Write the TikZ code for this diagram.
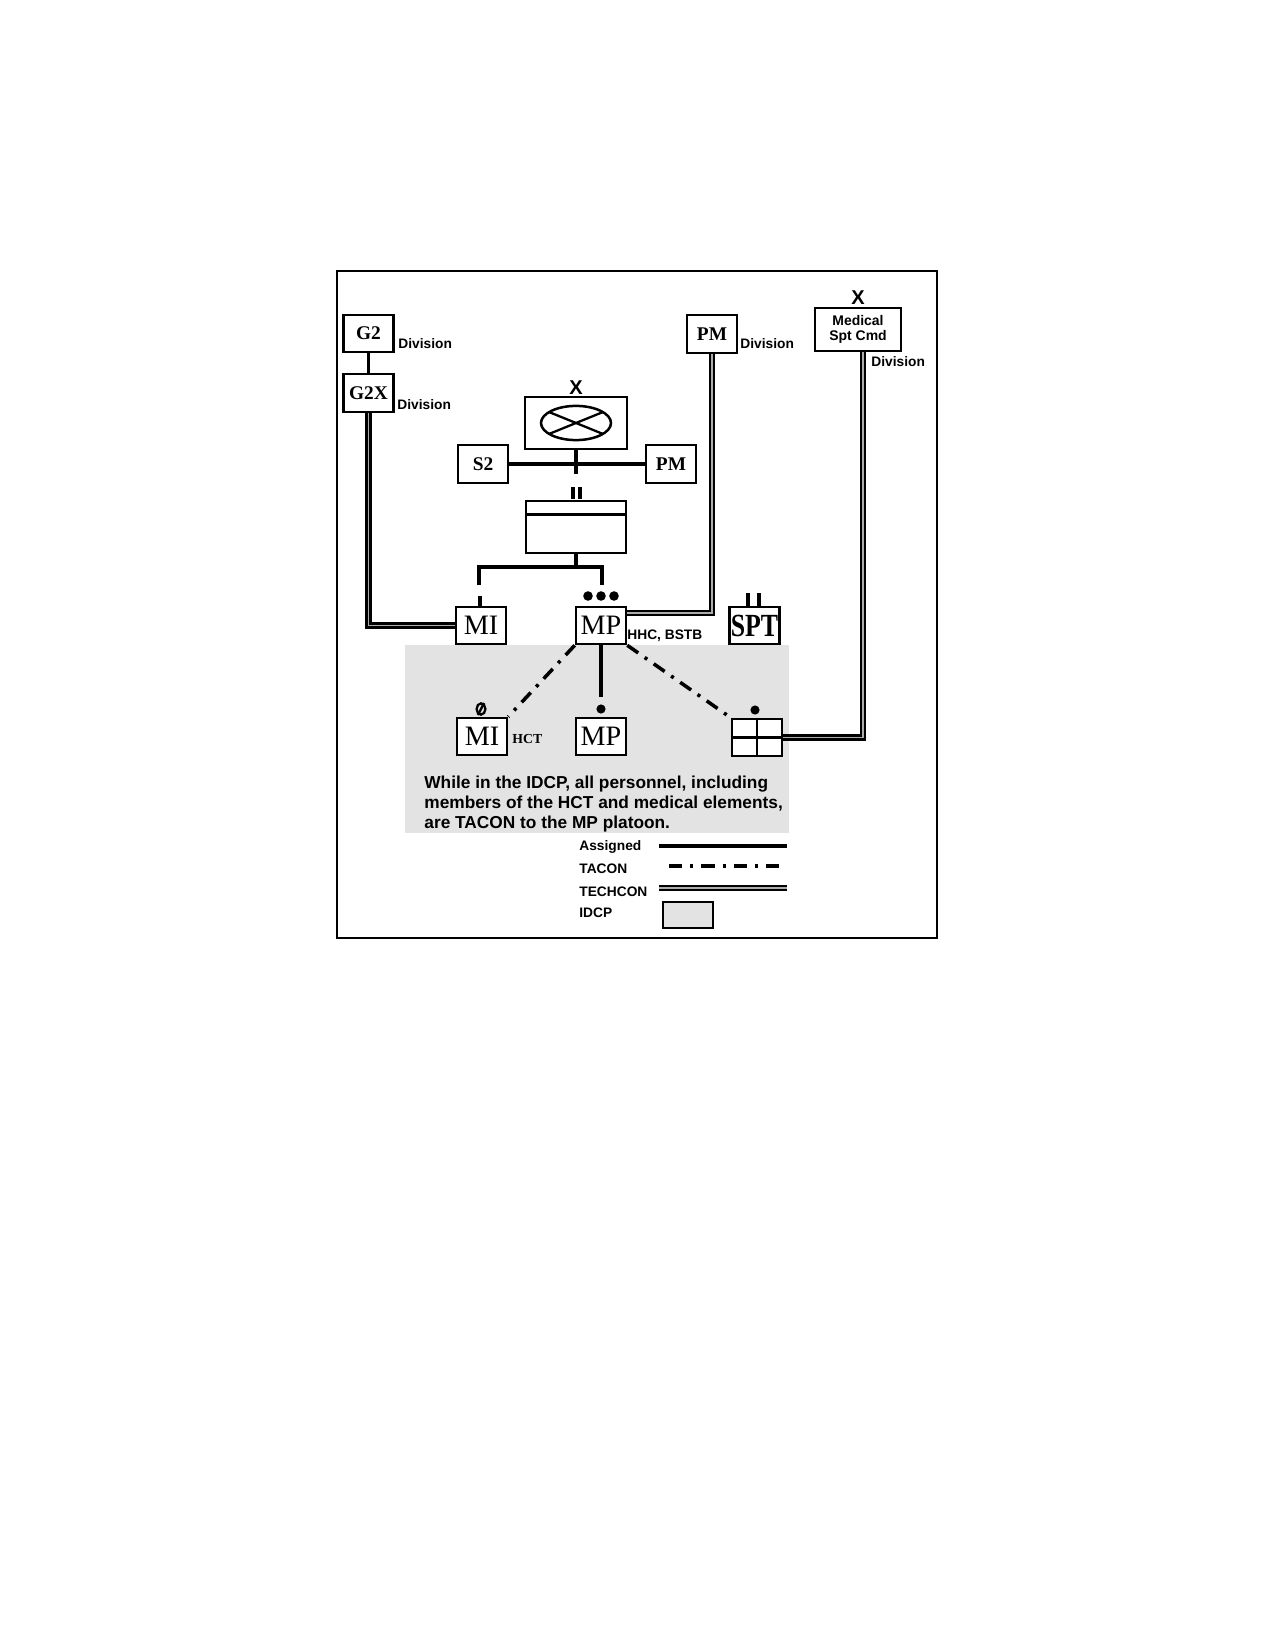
\documentclass[tikz,border=0pt]{standalone}
\usepackage{fontspec}
\setmainfont{Liberation Serif}
\setsansfont{Liberation Sans}
\begin{document}
\begin{tikzpicture}[x=0.48pt,y=-0.48pt,
  box/.style={draw,line width=1.2pt,inner sep=0pt,fill=white,minimum width=24pt,minimum height=18pt},
  lbl/.style={font=\sffamily\bfseries\fontsize{6.6}{7.5}\selectfont,inner sep=0pt},
  tlbl/.style={font=\rmfamily\bfseries\fontsize{9.3}{10}\selectfont},
  unitlbl/.style={font=\rmfamily\fontsize{13.5}{14}\selectfont},
  xlbl/.style={font=\sffamily\bfseries\fontsize{9.6}{10}\selectfont,inner sep=0pt},
  assigned/.style={line width=1.7pt},
  tacon/.style={line width=1.7pt,dash pattern=on 6.4pt off 3.8pt on 1.5pt off 3.8pt},
  techcon/.style={line width=1.1pt,double=gray!65,double distance=0.8pt},
  echelon/.style={line width=1.5pt},
  idcp/.style={fill=gray!22}]
\useasboundingbox (0,0) rectangle (1275,1650);

% IDCP area and frame
\fill[idcp] (405,645) rectangle (789,833);
\draw[line width=1.2pt] (337,271) rectangle (937,938);

% Division level
\node[box,tlbl,minimum height=17.8pt] (g2) at (368.5,333.5) {G2};
\node[lbl,anchor=west] (g2d) at (398,344) {Division};
\node[box,tlbl,minimum height=18.2pt] (g2x) at (368.5,393) {G2X};
\node[lbl,anchor=west] (g2xd) at (397,405) {Division};
\node[box,tlbl,minimum height=18.2pt] (pmd) at (712,334) {PM};
\node[lbl,anchor=west] (pmdd) at (740,344) {Division};
\node[box,font=\sffamily\bfseries\fontsize{6.7}{6.9}\selectfont,align=center,minimum width=41.3pt,minimum height=20.6pt] (med) at (858,329.5) {Medical\\Spt Cmd};
\node[xlbl] (medx) at (858,298) {X};
\node[lbl,anchor=west] (medd) at (871,362) {Division};

% Brigade
\node[box,minimum width=49pt,minimum height=25pt] (mission) at (576,423) {};
\node[xlbl] (missionx) at (576,388) {X};
\draw[line width=1.2pt] (mission.center) ellipse [x radius=16.8pt,y radius=8.2pt];
\draw[line width=1.1pt] ([shift={(-26.8,-10.9)}]mission.center) -- ([shift={(26.8,10.9)}]mission.center);
\draw[line width=1.1pt] ([shift={(-26.8,10.9)}]mission.center) -- ([shift={(26.8,-10.9)}]mission.center);
\node[box,tlbl,minimum height=18.2pt] (s2) at (483,464) {S2};
\node[box,tlbl,minimum height=18.2pt] (pm) at (671,464) {PM};
\coordinate (mtail) at (576,474);
\draw[assigned] (mission.south) -- (mtail);
\draw[assigned] (s2.east) -- (pm.west);

% Battalion
\draw[echelon] (573,487) -- (573,499);
\draw[echelon] (580,487) -- (580,499);
\node[box,minimum width=48pt,minimum height=25pt] (bn) at (576,527) {};
\draw[line width=1.2pt] ([yshift=-7.2pt]bn.north west) -- ([yshift=-7.2pt]bn.north east);
\coordinate (brtop) at (576,567);
\coordinate (brl) at (479,585);
\coordinate (brr) at (602,585);
\draw[assigned] (bn.south) -- (brtop);
\draw[assigned] (brl) -- (brl |- brtop) -- (brr |- brtop) -- (brr);

% Companies
\draw[echelon] (480,596) -- (480,607);
\fill (588,596) circle (2.3pt);
\fill (601,596) circle (2.3pt);
\fill (614,596) circle (2.3pt);
\node[box,unitlbl,minimum height=17.8pt] (mi) at (481,625.5) {MI};
\node[box,unitlbl,minimum height=17.8pt] (mp) at (601,625.5) {MP};
\node[lbl,anchor=west] (mpl) at (627,636) {HHC, BSTB};
\draw[echelon] (748,593) -- (748,607);
\draw[echelon] (759,593) -- (759,607);
\node[box,font=\rmfamily\bfseries\fontsize{15.5}{16}\selectfont,minimum height=17.8pt] (spt) at (754.5,625.5) {\scalebox{0.8}[1]{SPT}};

% Lower level (in IDCP)
\draw[line width=1.1pt] (481,709) ellipse [x radius=2.1pt,y radius=2.7pt];
\draw[line width=1.1pt] (478,715) -- (484,703);
\node[box,unitlbl,minimum height=17.8pt] (mih) at (482,736.5) {MI};
\node[font=\rmfamily\bfseries\fontsize{6.6}{7}\selectfont,inner sep=0pt,anchor=west] (hct) at (512,739) {HCT};
\fill (601,709) circle (2.2pt);
\node[box,unitlbl,minimum height=17.8pt] (mpl2) at (601,736.5) {MP};
\fill (755,710) circle (2.2pt);
\node[box,minimum height=17.8pt] (medbox) at (757,737.5) {};
\draw[line width=1.2pt] (medbox.north) -- (medbox.south);
\draw[line width=1.2pt] (medbox.west) -- (medbox.east);

% Connectors
\coordinate (mpdot) at (601,697);
\draw[assigned] (mp.south) -- (mpdot);
\draw[tacon] (mp.south west) -- (mih.north east);
\draw[tacon] (mp.south east) -- (medbox.north west);
\draw[assigned] (g2.south) -- (g2x.north);
\draw[techcon] (g2x.south) |- (mi.west);
\coordinate (t2) at (712,613);
\draw[techcon] (pmd.south) -- (t2) -- (t2 -| mp.east);
\coordinate (t3) at (863,737.5);
\draw[techcon] (med.south -| t3) -- (t3) -- (medbox.east);

% Note
\node[font=\sffamily\bfseries\fontsize{8.3}{9.4}\selectfont,align=left,anchor=north west,inner sep=0pt] (note) at (424,776)
  {While in the IDCP, all personnel, including\\members of the HCT and medical elements,\\are TACON to the MP platoon.};

% Legend
\node[lbl,anchor=west] (la) at (579,847) {Assigned};
\node[lbl,anchor=west] (lt) at (579,869) {TACON};
\node[lbl,anchor=west] (lc) at (579,892) {TECHCON};
\node[lbl,anchor=west] (li) at (579,913) {IDCP};
\coordinate (la1) at (659,846); \coordinate (la2) at (787,846);
\coordinate (lt1) at (669,866); \coordinate (lt2) at (787,866);
\coordinate (lc1) at (659,888); \coordinate (lc2) at (787,888);
\draw[assigned] (la1) -- (la2);
\draw[tacon] (lt1) -- (lt2);
\draw[techcon] (lc1) -- (lc2);
\draw[idcp,line width=1.1pt] (663,902) rectangle (713,928);
\end{tikzpicture}
\end{document}
